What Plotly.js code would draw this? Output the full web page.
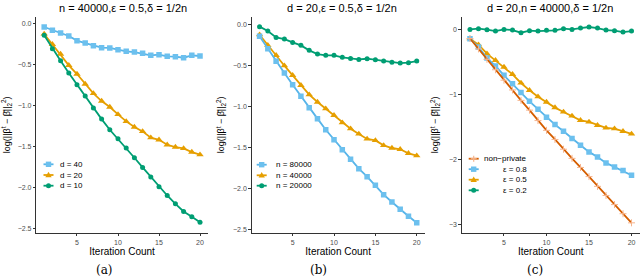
<!DOCTYPE html>
<html>
<head>
<meta charset="utf-8">
<script src="https://cdn.plot.ly/plotly-3.0.1.min.js"></script>
<style>html,body{margin:0;padding:0;background:#fff;}#chart{width:640px;height:278px;}</style>
</head>
<body>
<div id="chart"></div>
<script>
// ---------------- data ----------------
const iterations = [1,2,3,4,5,6,7,8,9,10,11,12,13,14,15,16,17,18,19,20];

const panelTitles = ["n = 40000,ε = 0.5,δ = 1/2n", "d = 20,ε = 0.5,δ = 1/2n", "d = 20,n = 40000,δ = 1/2n"];
const captions = ["(a)", "(b)", "(c)"];
const xTitle = "Iteration Count";
const yTitle = "log(||β<sup>t</sup> − β̂||<sub>2</sub><sup>2</sup>)";
const xTickVals = [5, 10, 15, 20];
const yTickValsAB = [0, -0.5, -1, -1.5, -2, -2.5];
const yTickTextAB = ["0.0", "−0.5", "−1.0", "−1.5", "−2.0", "−2.5"];
const yTickValsC = [0, -1, -2, -3];
const yTickTextC = ["0", "−1", "−2", "−3"];

// panel (a): n = 40000
const legendA = ["d = 40", "d = 20", "d = 10"];
const a_d40 = [-0.045,-0.085,-0.118,-0.154,-0.211,-0.240,-0.272,-0.297,-0.300,-0.321,-0.341,-0.350,-0.366,-0.390,-0.382,-0.402,-0.407,-0.419,-0.390,-0.398];
const a_d20 = [-0.130,-0.256,-0.374,-0.512,-0.618,-0.740,-0.854,-0.947,-1.020,-1.110,-1.195,-1.264,-1.317,-1.394,-1.419,-1.480,-1.508,-1.524,-1.569,-1.600];
const a_d10 = [-0.146,-0.309,-0.455,-0.606,-0.748,-0.886,-1.033,-1.167,-1.297,-1.407,-1.520,-1.638,-1.756,-1.874,-1.992,-2.098,-2.199,-2.293,-2.358,-2.423];

// panel (b): d = 20
const legendB = ["n = 80000", "n = 40000", "n = 20000"];
const b_n80000 = [-0.146,-0.297,-0.451,-0.593,-0.736,-0.878,-1.016,-1.150,-1.285,-1.407,-1.528,-1.646,-1.760,-1.858,-1.963,-2.077,-2.167,-2.256,-2.341,-2.419];
const b_n40000 = [-0.126,-0.256,-0.378,-0.504,-0.622,-0.744,-0.858,-0.947,-1.028,-1.110,-1.199,-1.272,-1.337,-1.398,-1.415,-1.476,-1.508,-1.524,-1.573,-1.602];
const b_n20000 = [-0.028,-0.081,-0.159,-0.179,-0.220,-0.256,-0.317,-0.362,-0.378,-0.378,-0.402,-0.415,-0.427,-0.419,-0.431,-0.447,-0.463,-0.472,-0.467,-0.447];

// panel (c): d = 20, n = 40000
const legendC = ["non−private", "ε = 0.8", "ε = 0.5", "ε = 0.2"];
const c_nonprivate = [-0.14,-0.30,-0.46,-0.62,-0.78,-0.93,-1.09,-1.24,-1.40,-1.55,-1.69,-1.84,-1.98,-2.12,-2.26,-2.41,-2.55,-2.69,-2.83,-2.97];
const c_e08 = [-0.143,-0.271,-0.440,-0.562,-0.706,-0.833,-0.971,-1.104,-1.227,-1.350,-1.462,-1.564,-1.677,-1.779,-1.881,-1.958,-2.050,-2.111,-2.168,-2.239];
const c_e05 = [-0.143,-0.235,-0.373,-0.475,-0.578,-0.690,-0.823,-0.936,-1.033,-1.115,-1.201,-1.268,-1.329,-1.396,-1.421,-1.472,-1.513,-1.524,-1.564,-1.605];
const c_e02 = [0.000,0.010,-0.005,-0.026,0.000,-0.010,-0.051,-0.020,-0.026,-0.015,-0.015,0.010,0.000,0.020,0.036,0.020,-0.010,-0.020,-0.041,-0.026];

// ---------------- styles ----------------
const W = 640, H = 278;
const BLUE = "#56B4E9", ORANGE = "#E69F00", GREEN = "#009E73", VERM = "#D55E00";
const FONT = "Liberation Sans, Arial, sans-serif";
const STY = {
  square:   {color: BLUE,   symbol: "square",        size: 5.5, mcolor: "#6cc0ee"},
  triangle: {color: ORANGE, symbol: "triangle-up",   size: 6.5, mcolor: ORANGE},
  circle:   {color: GREEN,  symbol: "circle",        size: 5,   mcolor: GREEN},
  cross:    {color: VERM,   symbol: "cross-thin",    size: 5,   mcolor: "#F6B48C"}
};

function px(x) { return x / W; }
function py(y) { return 1 - y / H; }

function trace(y, name, sty, xa, ya) {
  const marker = {symbol: sty.symbol, size: sty.size, color: sty.mcolor};
  if (sty.symbol === "cross-thin") marker.line = {color: sty.mcolor, width: 1};
  return {
    x: iterations, y: y, name: name, type: "scatter", mode: "lines+markers",
    xaxis: xa, yaxis: ya, showlegend: false,
    line: {color: sty.color, width: 1.8},
    marker: marker, hoverinfo: "x+y+name"
  };
}

const data = [
  trace(a_d40, legendA[0], STY.square, "x", "y"),
  trace(a_d20, legendA[1], STY.triangle, "x", "y"),
  trace(a_d10, legendA[2], STY.circle, "x", "y"),
  trace(b_n20000, legendB[2], STY.circle, "x2", "y2"),
  trace(b_n40000, legendB[1], STY.triangle, "x2", "y2"),
  trace(b_n80000, legendB[0], STY.square, "x2", "y2"),
  trace(c_e02, legendC[3], STY.circle, "x3", "y3"),
  trace(c_e05, legendC[2], STY.triangle, "x3", "y3"),
  trace(c_e08, legendC[1], STY.square, "x3", "y3"),
  trace(c_nonprivate, legendC[0], STY.cross, "x3", "y3")
];

// plot-area pixel boxes [left, right]
const plotX = [[36.4, 207.8], [251.7, 424.6], [461.9, 639.6]];
const plotTop = 17, plotBottom = 232.6;
const yRanges = [[-2.55, 0.077], [-2.54, 0.09], [-3.12, 0.19]];

function xaxis(i) {
  return {
    domain: [px(plotX[i][0]), px(plotX[i][1])], anchor: i === 0 ? "y" : "y" + (i + 1),
    range: [0.05, 20.95], tickvals: xTickVals, ticktext: xTickVals.map(String),
    showgrid: false, zeroline: false, showline: true, linecolor: "#333333", linewidth: 1,
    ticks: "outside", ticklen: 2.5, tickwidth: 1, tickcolor: "#333333",
    tickfont: {family: FONT, size: 7, color: "#4D4D4D"},
    title: {text: xTitle, font: {family: FONT, size: 10, color: "#000"}, standoff: 2},
    automargin: false, fixedrange: true
  };
}
function yaxis(i) {
  const isC = i === 2;
  return {
    domain: [py(plotBottom), py(plotTop)], anchor: i === 0 ? "x" : "x" + (i + 1),
    range: yRanges[i],
    tickvals: isC ? yTickValsC : yTickValsAB, ticktext: isC ? yTickTextC : yTickTextAB,
    showgrid: false, zeroline: false, showline: true, linecolor: "#333333", linewidth: 1,
    ticks: "outside", ticklen: 2.5, tickwidth: 1, tickcolor: "#333333",
    tickfont: {family: FONT, size: 7, color: "#4D4D4D"},
    title: {text: yTitle, font: {family: FONT, size: 9, color: "#000"}, standoff: isC ? 8 : 6},
    automargin: false, fixedrange: true
  };
}

const annotations = [];
const shapes = [];
const titleCenters = [123, 342, 550];
const captionCenters = [104.5, 318, 534.5];
for (let i = 0; i < 3; i++) {
  annotations.push({
    xref: "paper", yref: "paper", x: px(titleCenters[i]), y: py(8), xanchor: "center", yanchor: "middle",
    text: panelTitles[i], showarrow: false, font: {family: FONT, size: 11, color: "#000"}
  });
  annotations.push({
    xref: "paper", yref: "paper", x: px(captionCenters[i]), y: py(270), xanchor: "center", yanchor: "middle",
    text: captions[i], showarrow: false, font: {family: "DejaVu Serif, Liberation Serif, serif", size: 12, color: "#000"}
  });
}

// manual legends (ggplot-like compact keys)
function keyShapes(cx, cy, sty) {
  shapes.push({type: "line", xref: "paper", yref: "paper",
    x0: px(cx - 5), x1: px(cx + 5), y0: py(cy), y1: py(cy), line: {color: sty.color, width: 1.8}});
  const c = sty.mcolor;
  if (sty.symbol === "square") {
    shapes.push({type: "rect", xref: "paper", yref: "paper", x0: px(cx - 2.7), x1: px(cx + 2.7), y0: py(cy - 2.7), y1: py(cy + 2.7), fillcolor: c, line: {width: 0}});
  } else if (sty.symbol === "circle") {
    shapes.push({type: "circle", xref: "paper", yref: "paper", x0: px(cx - 2.5), x1: px(cx + 2.5), y0: py(cy - 2.5), y1: py(cy + 2.5), fillcolor: c, line: {width: 0}});
  } else if (sty.symbol === "triangle-up") {
    const p = "M" + px(cx - 3.2) + "," + py(cy + 2.2) + " L" + px(cx + 3.2) + "," + py(cy + 2.2) + " L" + px(cx) + "," + py(cy - 3.2) + " Z";
    shapes.push({type: "path", xref: "paper", yref: "paper", path: p, fillcolor: c, line: {width: 0}});
  } else {
    shapes.push({type: "line", xref: "paper", yref: "paper", x0: px(cx), x1: px(cx), y0: py(cy - 3), y1: py(cy + 3), line: {color: c, width: 1.2}});
    shapes.push({type: "line", xref: "paper", yref: "paper", x0: px(cx - 3), x1: px(cx + 3), y0: py(cy), y1: py(cy), line: {color: c, width: 1.2}});
  }
}
function legendBlock(labels, stys, keyX, textX, rows, anchor) {
  for (let k = 0; k < labels.length; k++) {
    keyShapes(keyX, rows[k], stys[k]);
    annotations.push({
      xref: "paper", yref: "paper", x: px(textX), y: py(rows[k]), xanchor: anchor, yanchor: "middle",
      text: labels[k], showarrow: false, font: {family: FONT, size: 8, color: "#000"}
    });
  }
}
legendBlock(legendA, [STY.square, STY.triangle, STY.circle], 48.5, 57.5, [164.3, 175, 185.7], "left");
legendBlock(legendB, [STY.square, STY.triangle, STY.circle], 261.7, 274, [164.7, 175.3, 185.7], "left");
legendBlock(legendC, [STY.cross, STY.square, STY.triangle, STY.circle], 473.7, 529, [158.7, 169.2, 179.7, 190.3], "right");

const layout = {
  width: W, height: H, autosize: false,
  margin: {l: 0, r: 0, t: 0, b: 0, pad: 0},
  paper_bgcolor: "#fff", plot_bgcolor: "#fff",
  showlegend: false,
  xaxis: xaxis(0), yaxis: yaxis(0),
  xaxis2: xaxis(1), yaxis2: yaxis(1),
  xaxis3: xaxis(2), yaxis3: yaxis(2),
  annotations: annotations, shapes: shapes,
  font: {family: FONT}
};

Plotly.newPlot("chart", data, layout, {staticPlot: true, displayModeBar: false});
</script>
</body>
</html>
